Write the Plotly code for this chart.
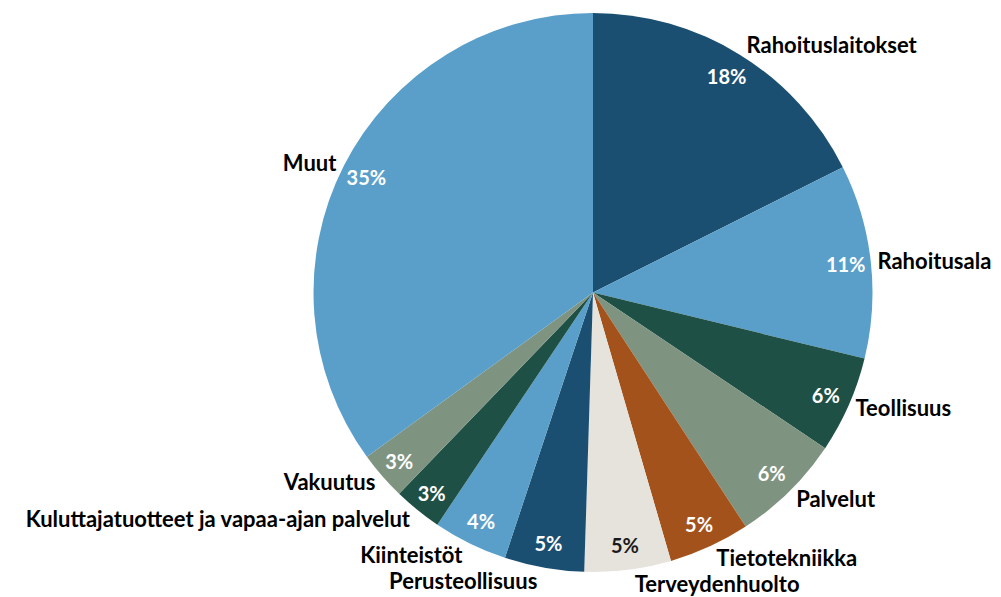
import plotly.graph_objects as go

categories = ["Rahoituslaitokset", "Rahoitusala", "Teollisuus", "Palvelut",
              "Tietotekniikka", "Terveydenhuolto", "Perusteollisuus", "Kiinteistöt",
              "Kuluttajatuotteet ja vapaa-ajan palvelut", "Vakuutus", "Muut"]
shares = [17.6, 11.2, 5.6, 6.4, 4.7, 5.0, 4.6, 4.3, 2.8, 2.8, 35.0]

slice_colors = ["#1b4f72", "#5a9fc9", "#1f5045", "#7f9480", "#a3521b", "#e6e2dc",
                "#1b4f72", "#5a9fc9", "#1f5045", "#7f9480", "#5a9fc9"]
pct_colors = ["white"] * 5 + ["#1a1a1a"] + ["white"] * 5

FONT = "Lato"
W, H = 1001, 597
# the page body adds an 8px offset, so the pie domain is placed 8px up/left
dom = dict(x=[305 / W, 865 / W], y=[0, 1])
n = len(categories)
transparent = ["rgba(0,0,0,0)"] * n

fig = go.Figure()
# base slices
fig.add_trace(go.Pie(
    labels=categories, values=shares, sort=False, direction="clockwise",
    marker=dict(colors=slice_colors, line=dict(width=0)),
    textinfo="none", domain=dom, showlegend=False,
))
# percentages near the outer edge (transparent ring)
fig.add_trace(go.Pie(
    labels=categories, values=shares, sort=False, direction="clockwise",
    hole=0.82,
    marker=dict(colors=transparent, line=dict(width=0)),
    texttemplate="%{percent:.0%}", textposition="inside",
    insidetextorientation="horizontal",
    insidetextfont=dict(family=FONT, size=20, color=pct_colors, weight="bold"),
    domain=dom, showlegend=False, hoverinfo="skip",
))
# category names outside, split over two traces so neighbours are not pushed apart
for parity in (0, 1):
    fig.add_trace(go.Pie(
        labels=categories, values=shares, sort=False, direction="clockwise",
        marker=dict(colors=transparent, line=dict(width=0)),
        textinfo="label",
        textposition=["outside" if i % 2 == parity else "none" for i in range(n)],
        outsidetextfont=dict(family=FONT, size=22, color="black", weight="bold"),
        domain=dom, showlegend=False, hoverinfo="skip",
    ))

fig.update_layout(
    width=W, height=H,
    margin=dict(l=0, r=0, t=4.5, b=32.5),
    paper_bgcolor="white", plot_bgcolor="white",
    showlegend=False,
)
fig.write_html("out.html")
